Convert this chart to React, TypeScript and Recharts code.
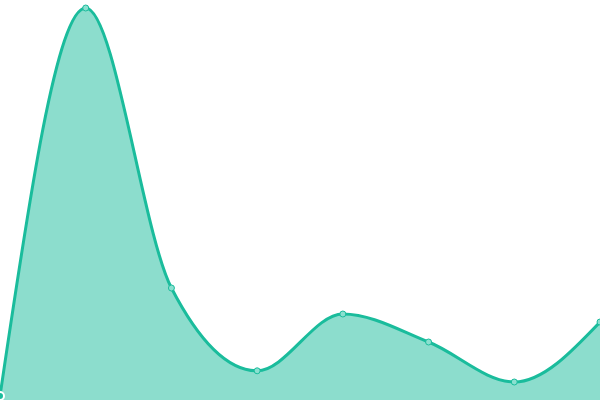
import { AreaChart, Area, XAxis, YAxis } from 'recharts'

const categories = ['A', 'B', 'C', 'D', 'E', 'F', 'G', 'H']
const values = [1, 98, 28, 7.3, 21.5, 14.5, 4.5, 19.5]

const data = categories.map((name, i) => ({ name, value: values[i] }))

export default function App() {
    return (
        <div style={{ position: 'absolute', top: 0, left: 0, width: 600, height: 400, background: '#fff' }}>
            <AreaChart width={600} height={400} data={data} margin={{ top: 0, right: 0, bottom: 0, left: 0 }}>
                <XAxis dataKey="name" hide padding={{ left: 0, right: 0 }} />
                <YAxis hide domain={[0, 100]} />
                <Area
                    type="monotone"
                    dataKey="value"
                    stroke="#1abc9c"
                    strokeWidth={3}
                    fill="#1abc9c"
                    fillOpacity={0.5}
                    dot={{ r: 3, fill: '#8be0d0', stroke: '#1abc9c', strokeWidth: 1, fillOpacity: 1 }}
                    isAnimationActive={false}
                />
            </AreaChart>
        </div>
    )
}
